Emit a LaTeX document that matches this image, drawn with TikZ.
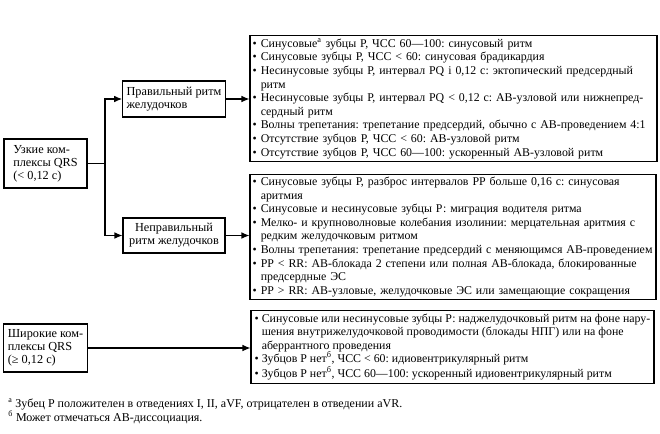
\documentclass[tikz,border=0pt]{standalone}
\usepackage{fontspec}
\setmainfont{Liberation Serif}
\usetikzlibrary{arrows.meta}
\newcommand{\ind}{\phantom{\textbullet\ }}
\begin{document}
\frenchspacing
\begin{tikzpicture}[x=0.75pt, y=-0.75pt, font=\fontsize{9.2}{10.2}\selectfont,
    box/.style = {draw, line width=0.8pt, inner xsep=3pt, inner ysep=2pt, font=\fontsize{9.2}{9.9}\selectfont},
    listbox/.style = {box, align=left, inner xsep=2pt, font=\fontsize{8.9}{10.2}\selectfont},
    link/.style = {line width=0.8pt, -{Latex[length=6pt, width=5pt]}}]
            \useasboundingbox (0,0) rectangle (660,433);
            {
                \node[box, align=left, minimum width=62.25pt, minimum height=36.75pt] (narrow) at (45.5,163.5)
                    {Узкие ком-\\плексы QRS\\(< 0,12 с)};
                \node[box, align=left, minimum width=76.5pt, minimum height=27pt] (regular) at (174,99)
                    {Правильный ритм\\желудочков};
                \node[box, align=center, minimum width=76.5pt, minimum height=26.25pt] (irregular) at (174,235.5)
                    {Неправильный\\ритм желудочков};
                \node[box, align=left, minimum width=62.25pt, minimum height=36pt] (wide) at (45.5,348)
                    {Широкие ком-\\плексы QRS\\(≥ 0,12 с)};
            }

            % lists of rhythms
            \node[listbox, text width=301.25pt, minimum height=89.25pt] (list1) at (453.5,98.5) {%
                \textbullet\ Синусовые\textsuperscript{а} зубцы Р, ЧСС 60—100: синусовый ритм\\
                \textbullet\ Синусовые зубцы Р, ЧСС < 60: синусовая брадикардия\\
                \textbullet\ Несинусовые зубцы Р, интервал PQ i 0,12 с: эктопический предсердный\\
                \ind ритм\\
                \textbullet\ Несинусовые зубцы Р, интервал PQ < 0,12 с: АВ-узловой или нижнепред-\\
                \ind сердный ритм\\
                \textbullet\ Волны трепетания: трепетание предсердий, обычно с АВ-проведением 4:1\\
                \textbullet\ Отсутствие зубцов Р, ЧСС < 60: АВ-узловой ритм\\
                \textbullet\ Отсутствие зубцов Р, ЧСС 60—100: ускоренный АВ-узловой ритм};
            \node[listbox, text width=300.5pt, minimum height=91.5pt] (list2) at (453,237) {%
                \textbullet\ Синусовые зубцы Р, разброс интервалов PP больше 0,16 с: синусовая\\
                \ind аритмия\\
                \textbullet\ Синусовые и несинусовые зубцы Р: миграция водителя ритма\\
                \textbullet\ Мелко- и крупноволновые колебания изолинии: мерцательная аритмия с\\
                \ind редким желудочковым ритмом\\
                \textbullet\ Волны трепетания: трепетание предсердий с меняющимся АВ-проведением\\
                \textbullet\ PP < RR: АВ-блокада 2 степени или полная АВ-блокада, блокированные\\
                \ind предсердные ЭС\\
                \textbullet\ PP > RR: АВ-узловые, желудочковые ЭС или замещающие сокращения};
            \node[listbox, minimum width=302.25pt, minimum height=51pt] (list3) at (452.5,347) {%
                \textbullet\ Синусовые или несинусовые зубцы Р: наджелудочковый ритм на фоне нару-\\
                \ind шения внутрижелудочковой проводимости (блокады НПГ) или на фоне\\
                \ind аберрантного проведения\\
                \textbullet\ Зубцов Р нет\textsuperscript{б}, ЧСС < 60: идиовентрикулярный ритм\\
                \textbullet\ Зубцов Р нет\textsuperscript{б}, ЧСС 60—100: ускоренный идиовентрикулярный ритм};

            \node[anchor=north west, align=left, inner sep=0pt, font=\fontsize{9}{9.6}\selectfont] (notes) at (8,398) {%
                \textsuperscript{а}\ Зубец Р положителен в отведениях I, II, aVF, отрицателен в отведении aVR.\\
                \textsuperscript{б}\ Может отмечаться АВ-диссоциация.};

            \coordinate (fork) at (105,163.5);
            \draw[line width=0.8pt] (narrow.east) -- (fork);
            \draw[link] (fork) |- (regular.west);
            \draw[link] (fork) |- (irregular.west);
            \draw[link] (regular.east) -- (regular.east -| list1.west);
            \draw[link] (irregular.east) -- (irregular.east -| list2.west);
            \draw[link] (wide.east) -- (wide.east -| list3.west);

        \end{tikzpicture}
\end{document}
